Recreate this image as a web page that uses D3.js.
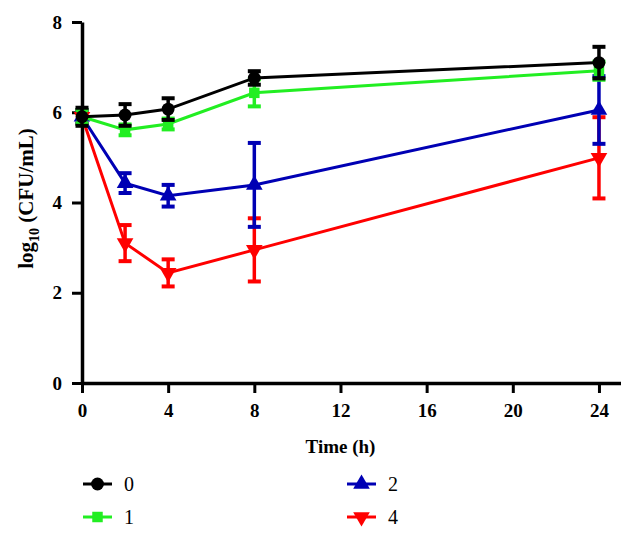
<!DOCTYPE html>
<html><head><meta charset="utf-8">
<script src="https://cdn.jsdelivr.net/npm/d3@7"></script>
<style>body{margin:0;background:#fff}svg{display:block}text{font-family:"Liberation Serif",serif}</style>
</head><body><div id="chart"></div>
<script>
const times = [0, 2, 4, 8, 24];
const seriesNames = ["0", "1", "2", "4"];
const seriesColors = ["#000000", "#22ee22", "#0000b4", "#ff0000"];
const seriesSymbols = ["circle", "square", "triangleUp", "triangleDown"];
const means0 = [5.9, 5.94, 6.07, 6.76, 7.1];
const err0 = [0.2, 0.24, 0.24, 0.15, 0.35];
const means1 = [5.9, 5.61, 5.74, 6.43, 6.92];
const err1 = [0.15, 0.12, 0.12, 0.3, 0.2];
const means2 = [5.9, 4.43, 4.15, 4.39, 6.05];
const err2 = [0.15, 0.22, 0.24, 0.93, 0.75];
const means4 = [5.9, 3.1, 2.44, 2.95, 4.99];
const err4 = [0.15, 0.4, 0.3, 0.7, 0.9];
const xTicks = [0, 4, 8, 12, 16, 20, 24];
const yTicks = [0, 2, 4, 6, 8];

const allMeans = [means0, means1, means2, means4];
const allErr = [err0, err1, err2, err4];

const W = 636, H = 537;
const svg = d3.select("#chart").append("svg").attr("width", W).attr("height", H);
const x = d3.scaleLinear().domain([0, 25]).range([82, 620.5]);
const y = d3.scaleLinear().domain([0, 8]).range([383, 22]);

// axes
const xAxis = svg.append("g").attr("transform", `translate(0,${y(0)})`)
  .call(d3.axisBottom(x).tickValues(xTicks).tickSize(10).tickSizeOuter(0).tickPadding(9));
const yAxis = svg.append("g").attr("transform", `translate(${x(0)},0)`)
  .call(d3.axisLeft(y).tickValues(yTicks).tickSize(10).tickSizeOuter(0).tickPadding(10));
[xAxis, yAxis].forEach(g => {
  g.select(".domain").attr("stroke", "#000").attr("stroke-width", 3.5);
  g.selectAll(".tick line").attr("stroke", "#000").attr("stroke-width", 3);
  g.selectAll(".tick text").attr("fill", "#000").style("font-size", "19px").style("font-weight", "bold").style("font-family", "Liberation Serif, serif");
});
xAxis.selectAll(".tick text").attr("dy", "0.8em");

// axis titles
svg.append("text").attr("x", x(12)).attr("y", 453).attr("text-anchor", "middle")
  .style("font-size", "19px").style("font-weight", "bold").text("Time (h)");
const yl = svg.append("text").attr("transform", `translate(33,${y(4) - 4}) rotate(-90)`)
  .attr("text-anchor", "middle").style("font-size", "21px").style("font-weight", "bold");
yl.append("tspan").text("log");
yl.append("tspan").attr("dy", 6).style("font-size", "14px").text("10");
yl.append("tspan").attr("dy", -6).text(" (CFU/mL)");

const symType = {circle: d3.symbolCircle, square: d3.symbolSquare, triangleUp: d3.symbolTriangle, triangleDown: d3.symbolTriangle};
function drawSymbol(g, kind, cx, cy, color) {
  const size = kind === "circle" ? 130 : kind === "square" ? 110 : 120;
  g.append("path").attr("d", d3.symbol().type(symType[kind]).size(size)())
    .attr("transform", `translate(${cx},${cy})` + (kind === "triangleDown" ? " rotate(180)" : ""))
    .attr("fill", color);
}

const line = d3.line().x((d, i) => x(times[i])).y(d => y(d));
const order = [3, 2, 1, 0];
order.forEach(s => {
  const g = svg.append("g");
  const col = seriesColors[s];
  g.append("path").datum(allMeans[s]).attr("d", line).attr("fill", "none").attr("stroke", col).attr("stroke-width", 3);
  allMeans[s].forEach((m, i) => {
    const e = allErr[s][i];
    const cx = x(times[i]);
    g.append("line").attr("x1", cx).attr("x2", cx).attr("y1", y(m - e)).attr("y2", y(m + e)).attr("stroke", col).attr("stroke-width", 3.5);
    [m - e, m + e].forEach(v => g.append("line").attr("x1", cx - 6.5).attr("x2", cx + 6.5).attr("y1", y(v)).attr("y2", y(v)).attr("stroke", col).attr("stroke-width", 4));
    drawSymbol(g, seriesSymbols[s], cx, y(m), col);
  });
});

// legend
const legPos = [[83, 484], [83, 517], [347, 484], [347, 517]];
seriesNames.forEach((n, s) => {
  const [lx, ly] = legPos[s];
  const g = svg.append("g");
  g.append("line").attr("x1", lx).attr("x2", lx + 29).attr("y1", ly).attr("y2", ly).attr("stroke", seriesColors[s]).attr("stroke-width", 3);
  drawSymbol(g, seriesSymbols[s], lx + 14.5, ly, seriesColors[s]);
  g.append("text").attr("x", lx + 41).attr("y", ly).attr("dy", "0.33em").style("font-size", "20px").text(n);
});
</script></body></html>
